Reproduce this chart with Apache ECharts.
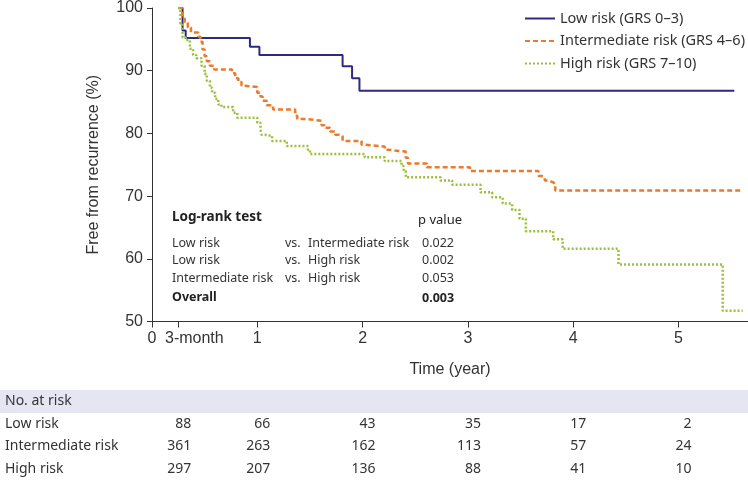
<!DOCTYPE html>
<html>
<head>
<meta charset="utf-8">
<script src="https://cdn.jsdelivr.net/npm/echarts@6.0.0/dist/echarts.min.js"></script>
<style>
  html, body { margin: 0; padding: 0; background: #fff; }
  #main { width: 748px; height: 480px; }
</style>
</head>
<body>
<div id="main"></div>
<script>
// Kaplan-Meier curves: [year, % free from recurrence]
var lowRisk = [[0.25,100],[0.29,96.4],[0.32,95.2],[0.93,93.8],[1.02,92.5],[1.81,90.7],[1.90,88.8],[1.97,86.8],[5.53,86.8]];
var intermediateRisk = [[0.25,100],[0.29,98.8],[0.31,97.8],[0.34,96.9],[0.37,96.1],[0.44,95.4],[0.46,94.6],[0.48,93.4],[0.50,92.3],[0.52,91.5],[0.55,90.8],[0.59,90.2],[0.76,89.6],[0.79,88.8],[0.82,88.2],[0.85,87.6],[0.88,87.4],[1.00,86.5],[1.03,85.9],[1.05,85.2],[1.09,84.5],[1.15,83.8],[1.36,82.8],[1.38,82.3],[1.47,82.0],[1.61,81.3],[1.64,80.9],[1.69,80.3],[1.74,79.8],[1.77,79.6],[1.81,78.8],[1.99,78.2],[2.01,77.9],[2.21,77.4],[2.24,77.1],[2.41,76.1],[2.43,75.2],[2.61,74.6],[3.02,74.0],[3.67,73.2],[3.70,73.0],[3.73,72.5],[3.76,72.2],[3.81,71.9],[3.83,70.9],[5.61,70.9]];
var highRisk = [[0.25,100],[0.27,97.5],[0.29,95.3],[0.32,94.9],[0.36,93.5],[0.39,92.5],[0.42,92.0],[0.47,90.8],[0.50,89.5],[0.52,88.4],[0.55,87.3],[0.57,86.5],[0.60,85.5],[0.63,84.6],[0.66,84.2],[0.77,83.3],[0.81,82.5],[1.00,81.7],[1.03,80.6],[1.04,79.8],[1.07,79.6],[1.14,78.8],[1.28,78.0],[1.48,77.4],[1.50,76.7],[2.02,76.2],[2.21,75.6],[2.37,74.8],[2.39,74.0],[2.41,73.0],[2.74,72.5],[2.85,71.8],[3.12,70.6],[3.23,69.8],[3.33,68.8],[3.42,67.8],[3.49,66.4],[3.55,64.4],[3.81,63.1],[3.90,61.6],[4.43,59.1],[5.42,51.7],[5.61,51.7]];

var seriesNames = ['Low risk (GRS 0\u20133)', 'Intermediate risk (GRS 4\u20136)', 'High risk (GRS 7\u201310)'];
var xTicks = [0, 0.25, 1, 2, 3, 4, 5];

// log-rank test box
var logRankRows = [
  ['Low risk', 'vs.', 'Intermediate risk', '0.022'],
  ['Low risk', 'vs.', 'High risk', '0.002'],
  ['Intermediate risk', 'vs.', 'High risk', '0.053']
];
var overallP = '0.003';

// number at risk table
var riskTimes = [0.25, 1, 2, 3, 4, 5];
var riskLabels = ['Low risk', 'Intermediate risk', 'High risk'];
var atRiskLow = [88, 66, 43, 35, 17, 2];
var atRiskIntermediate = [361, 263, 162, 113, 57, 24];
var atRiskHigh = [297, 207, 136, 88, 41, 10];

var chart = echarts.init(document.getElementById('main'));
var axisFont = 'Liberation Sans, Arial, sans-serif';
var textFont = 'Noto Sans, Open Sans, sans-serif';

var option = {
  animation: false,
  backgroundColor: '#fff',
  grid: { left: 152, right: 0, top: 7, bottom: 158.5 },
  legend: {
    orient: 'vertical',
    left: 519,
    top: 6,
    itemWidth: 30,
    itemHeight: 14,
    itemGap: 7.5,
    itemStyle: { opacity: 0 },
    textStyle: { fontFamily: textFont, fontSize: 14.5, color: '#333' },
    data: seriesNames
  },
  xAxis: {
    type: 'value',
    min: 0,
    max: 5.66,
    name: 'Time (year)',
    nameLocation: 'middle',
    nameGap: 40,
    nameTextStyle: { fontFamily: axisFont, fontSize: 16, color: '#333' },
    splitLine: { show: false },
    axisLine: { lineStyle: { color: '#333', width: 1 } },
    axisTick: { customValues: xTicks, length: 6, lineStyle: { color: '#333' } },
    axisLabel: {
      customValues: xTicks,
      margin: 9,
      fontFamily: axisFont,
      fontSize: 16,
      color: '#333',
      formatter: function (v) {
        if (v === 0.25) return '{m|3-month}';
        return String(v);
      },
      rich: { m: { fontFamily: axisFont, fontSize: 16, color: '#333', padding: [0, 0, 0, 32] } }
    }
  },
  yAxis: {
    type: 'value',
    min: 50,
    max: 100,
    interval: 10,
    name: 'Free from recurrence (%)',
    nameLocation: 'middle',
    nameGap: 50,
    nameTextStyle: { fontFamily: axisFont, fontSize: 16, color: '#333' },
    splitLine: { show: false },
    axisLine: { show: true, lineStyle: { color: '#333', width: 1 } },
    axisTick: { show: true, length: 5, lineStyle: { color: '#333' } },
    axisLabel: { margin: 9, fontFamily: axisFont, fontSize: 16, color: '#333' }
  },
  series: [
    {
      name: seriesNames[0], type: 'line', step: 'end', symbol: 'none',
      data: lowRisk,
      lineStyle: { color: '#2d2a7f', width: 2 },
      itemStyle: { color: '#2d2a7f' }
    },
    {
      name: seriesNames[1], type: 'line', step: 'end', symbol: 'none',
      data: intermediateRisk,
      lineStyle: { color: '#ea7b2c', width: 2.5, type: [5, 3] },
      itemStyle: { color: '#ea7b2c' }
    },
    {
      name: seriesNames[2], type: 'line', step: 'end', symbol: 'none',
      data: highRisk,
      lineStyle: { color: '#9cbf3a', width: 2.5, type: [2, 2] },
      itemStyle: { color: '#9cbf3a' }
    }
  ]
};
chart.setOption(option);

// annotation text + at-risk table
var g = [];
function txt(x, y, s, opt) {
  opt = opt || {};
  g.push({
    type: 'text', x: x, y: y, silent: true,
    style: {
      text: s,
      fontFamily: textFont,
      fontSize: opt.size || 12.5,
      fontWeight: opt.bold ? 'bold' : 'normal',
      fill: opt.color || '#333',
      textAlign: opt.align || 'left',
      textVerticalAlign: 'middle'
    }
  });
}

txt(172, 217, 'Log-rank test', { size: 13.5, bold: true, color: '#222' });
txt(418, 220, 'p value', { size: 13, bold: false, color: '#222' });
var rowY = [243, 260.5, 278];
logRankRows.forEach(function (r, i) {
  txt(172, rowY[i], r[0]);
  txt(285, rowY[i], r[1]);
  txt(308, rowY[i], r[2]);
  txt(422, rowY[i], r[3]);
});
txt(172, 297.5, 'Overall', { size: 12.5, bold: true, color: '#222' });
txt(422, 298.5, overallP, { size: 12.5, bold: true, color: '#222' });

// table
g.push({ type: 'rect', silent: true, shape: { x: 0, y: 390, width: 748, height: 23 }, style: { fill: '#e6e5f2' } });
txt(5, 401.5, 'No. at risk', { size: 14 });
var tableRows = [atRiskLow, atRiskIntermediate, atRiskHigh];
var tableY = [424, 446.5, 469];
tableRows.forEach(function (vals, i) {
  txt(5, tableY[i], riskLabels[i], { size: 14 });
  vals.forEach(function (n, j) {
    var px = chart.convertToPixel({ xAxisIndex: 0 }, riskTimes[j]);
    txt(px + 13, tableY[i], String(n), { size: 14, align: 'right' });
  });
});

chart.setOption({ graphic: g });
</script>
</body>
</html>
